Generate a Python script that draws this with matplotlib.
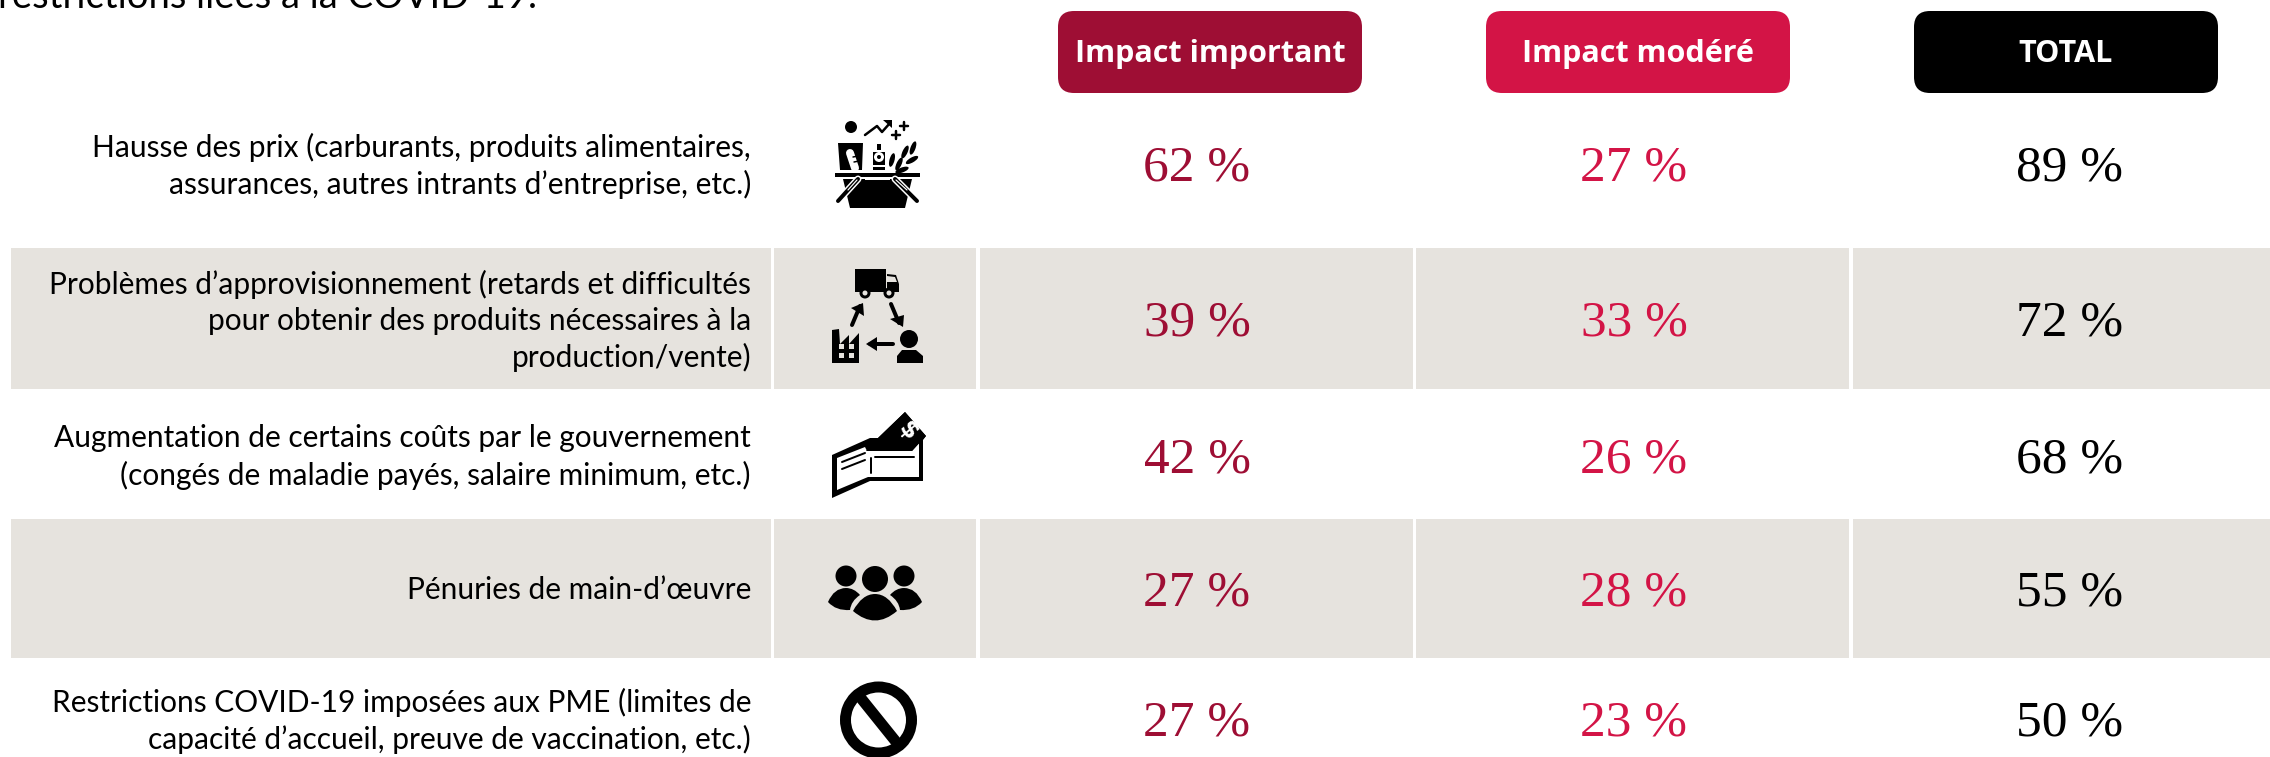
# tableau des impacts sur les PME, axes en pixels
import matplotlib
matplotlib.use('Agg')
import matplotlib.pyplot as plt
from matplotlib.patches import Circle, Ellipse, FancyBboxPatch, PathPatch, Polygon, Rectangle, Wedge
from matplotlib.path import Path

# data
labels = [
    "Hausse des prix (carburants, produits alimentaires,\nassurances, autres intrants d’entreprise, etc.)",
    "Problèmes d’approvisionnement (retards et difficultés\npour obtenir des produits nécessaires à la\nproduction/vente)",
    "Augmentation de certains coûts par le gouvernement\n(congés de maladie payés, salaire minimum, etc.)",
    "Pénuries de main-d’œuvre",
    "Restrictions COVID-19 imposées aux PME (limites de\ncapacité d’accueil, preuve de vaccination, etc.)",
]
impact_important = [62, 39, 42, 27, 27]
impact_modere = [27, 33, 26, 28, 23]
total = [89, 72, 68, 55, 50]
headers = ["Impact important", "Impact modéré", "TOTAL"]

DARK = '#9E0E34'
RED = '#D31446'
GREY = '#E6E3DE'
BLACK = '#000000'
colors = [DARK, RED, BLACK]
columns = [impact_important, impact_modere, total]

row_y = [168, 323, 460, 593, 723]
label_y = [166, 321, 457, 590, 721]
col_x = [1197, 1634, 2070]
pills = [(1058, 1362), (1486, 1790), (1914, 2218)]
cells = [(11, 771), (774, 976), (980, 1413), (1416, 1849), (1853, 2270)]
grey_rows = [(248, 389), (519, 658)]

fig = plt.figure(figsize=(22.7, 7.57), dpi=100)
ax = fig.add_axes([0, 0, 1, 1])
ax.set_xlim(0, 2270)
ax.set_ylim(757, 0)
ax.axis('off')


def poly(pts, color=BLACK, z=3):
    ax.add_patch(Polygon(pts, closed=True, fc=color, ec='none', zorder=z))


def circ(x, y, r, color=BLACK, z=3):
    ax.add_patch(Circle((x, y), r, fc=color, ec='none', zorder=z))


def rect(x0, y0, x1, y1, color=BLACK, z=3):
    ax.add_patch(Rectangle((x0, y0), x1 - x0, y1 - y0, fc=color, ec='none', zorder=z))


def stroke(xs, ys, w=3, color=BLACK, z=4):
    ax.plot(xs, ys, color=color, lw=w * 0.72, solid_capstyle='round', zorder=z)


def blob(start, *curves):
    # contour ferme en courbes : (controle, arrivee), ...
    verts = [start]
    codes = [Path.MOVETO]
    for ctrl, end in curves:
        verts += [ctrl, end]
        codes += [Path.CURVE3, Path.CURVE3]
    ax.add_patch(PathPatch(Path(verts, codes), fc=BLACK, ec='none', zorder=3))


def basket():
    circ(851, 127, 6)
    stroke([865, 877, 882, 890], [135, 126, 132, 123], 2.5)
    poly([(883, 120), (892, 120), (892, 128)])
    stroke([904, 904], [122, 130], 2.5)
    stroke([900, 908], [126, 126], 2.5)
    stroke([896, 896], [131, 139], 2.5)
    stroke([892, 900], [135, 135], 2.5)
    # produits
    poly([(838, 143), (863, 143), (862, 170), (840, 170)])
    stroke([850, 855], [153, 168], 8, 'white')
    stroke([853, 858], [157, 156], 1.5)
    stroke([854, 859], [162, 161], 1.5)
    rect(873, 152, 885, 170)
    rect(877, 144, 881, 150)
    circ(879, 157, 5, 'white', 4)
    circ(879, 157, 2, BLACK, 5)
    rect(873, 165, 885, 167, 'white', 4)
    for x, y, a in [(899, 164, 25), (905, 152, 25), (913, 148, 20), (912, 160, 60), (902, 170, 70), (892, 160, 15)]:
        ax.add_patch(Ellipse((x, y), 5, 14, angle=a, fc=BLACK, ec='none', zorder=3))
    # tablette et panier
    rect(835, 173, 920, 177)
    poly([(843, 179), (912, 179), (905, 208), (850, 208)])
    rect(865, 177, 890, 180, 'white', 4)
    stroke([838, 858], [201, 179], 7, 'white')
    stroke([917, 895], [201, 179], 7, 'white')
    stroke([838, 858], [201, 179], 4, BLACK, 5)
    stroke([917, 895], [201, 179], 4, BLACK, 5)
    stroke([848, 857], [190, 180], 1.2, 'white', 6)
    stroke([907, 896], [190, 180], 1.2, 'white', 6)


def supply():
    # camion
    rect(855, 269, 886, 292)
    poly([(887, 274), (896, 275), (899, 284), (899, 292), (887, 292)])
    poly([(887, 276), (895, 277), (897, 282), (887, 282)], GREY)
    for x in [865, 889]:
        circ(x, 293, 5.5)
        circ(x, 293, 2.5, GREY, 4)
    # fleches
    stroke([852, 860], [325, 306], 4)
    poly([(851, 308), (863, 303), (864, 316)])
    stroke([891, 899], [304, 323], 4)
    poly([(890, 319), (904, 315), (903, 327)])
    stroke([893, 870], [344, 344], 4)
    poly([(866, 344), (877, 337), (877, 351)])
    # usine
    poly([(832, 363), (832, 330), (839, 329), (840, 344), (849, 335), (849, 344), (859, 333), (859, 363)])
    for x, y in [(841, 346), (851, 346), (841, 355), (851, 355)]:
        rect(x - 2.5, y - 2.5, x + 2.5, y + 2.5, GREY, 4)
    # personne
    circ(909, 339, 9)
    poly([(897, 363), (897, 356), (902, 350), (916, 350), (923, 356), (923, 363)])


def wallet():
    poly([(832, 455), (870, 438), (878, 438), (905, 412), (926, 436), (923, 440), (923, 481),
          (870, 481), (832, 498)])
    poly([(837, 458), (865, 447), (867, 451), (912, 451), (919, 443), (919, 477),
          (868, 477), (837, 490)], 'white', 4)
    poly([(905, 412), (926, 436), (912, 451), (866, 451), (878, 438)], BLACK, 5)
    stroke([842, 865], [462, 453], 2, BLACK, 5)
    stroke([842, 865], [469, 460], 2, BLACK, 5)
    stroke([871, 871], [458, 473], 2, BLACK, 5)
    stroke([875, 914], [457, 457], 2, BLACK, 5)
    ax.text(908, 430, '$', rotation=-50, color='white', fontsize=17, fontweight='bold',
            ha='center', va='center', zorder=6)


def people():
    circ(846, 576, 10.5)
    circ(875, 579, 13)
    circ(904, 576, 10.5)
    blob((853, 611), ((862, 594), (875, 594)), ((888, 594), (897, 611)), ((875, 630), (853, 611)))
    blob((828, 602), ((834, 588), (846, 588)), ((854, 588), (860, 595)), ((851, 601), (850, 610)),
         ((836, 611), (828, 602)))
    blob((922, 602), ((916, 588), (904, 588)), ((896, 588), (890, 595)), ((899, 601), (900, 610)),
         ((914, 611), (922, 602)))


def forbidden():
    ax.add_patch(Wedge((878.5, 720), 38.5, 0, 360, width=11, fc=BLACK, ec='none', zorder=3))
    ax.plot([856, 901], [692, 748], color=BLACK, lw=11 * 0.72, solid_capstyle='butt', zorder=3)


# bandes grises
for y0, y1 in grey_rows:
    for x0, x1 in cells:
        ax.add_patch(Rectangle((x0, y0), x1 - x0, y1 - y0, fc=GREY, ec='none', zorder=1))

# titre coupe par le haut de la figure
ax.text(-2, 8, "restrictions liées à la COVID-19.", fontsize=27.5, family='Lato',
        ha='left', va='baseline', color=BLACK, zorder=5)

# en-tetes
for (x0, x1), head, c in zip(pills, headers, colors):
    ax.add_patch(FancyBboxPatch((x0 + 16, 11 + 16), x1 - x0 - 32, 82 - 32,
                                boxstyle='round,pad=16,rounding_size=16', fc=c, ec='none', zorder=2))
    ax.text((x0 + x1) / 2, 54, head, color='white', fontsize=22, family='Open Sans',
            fontweight='bold', ha='center', va='center', zorder=5)

# libelles
for label, y in zip(labels, label_y):
    ax.text(751, y, label, fontsize=21.5, family='Lato', ha='right', va='center',
            ma='right', linespacing=1.35, color=BLACK, zorder=5)

# valeurs
for x, values, c in zip(col_x, columns, colors):
    for v, y in zip(values, row_y):
        ax.text(x, y, f"{v} %", color=c, fontsize=37, family='Liberation Serif',
                ha='center', va='center', zorder=5)

basket()
supply()
wallet()
people()
forbidden()

fig.savefig('out.png', dpi=100, facecolor='white')
